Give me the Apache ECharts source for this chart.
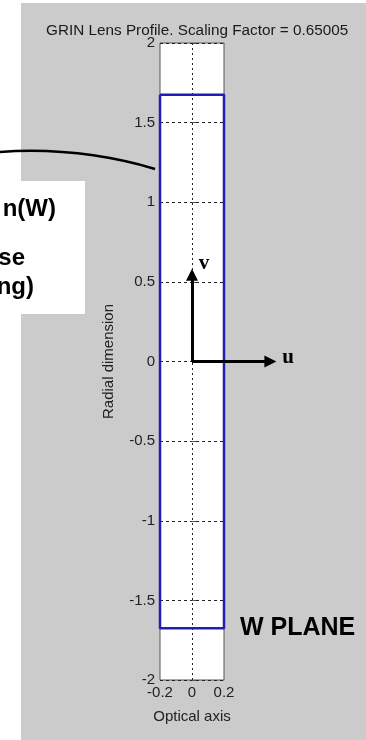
<!DOCTYPE html>
<html>
<head>
<meta charset="utf-8">
<script src="https://cdn.jsdelivr.net/npm/echarts@6/dist/echarts.min.js"></script>
<style>
    body { margin: 0; background: #fff; }
    #bg { position: absolute; left: 21px; top: 3px; width: 345px; height: 737px; background: #cbcbcb; }
    #main { position: absolute; left: 0; top: 0; width: 366px; height: 740px; }
</style>
</head>
<body>
<div id="bg"></div>
<div id="main"></div>
<script>
// 透镜轮廓 (W 平面)
var lensX = [-0.2, 0.2, 0.2, -0.2, -0.2];
var lensY = [1.675, 1.675, -1.675, -1.675, 1.675];

// 坐标箭头 u / v
var uArrow = [[0, 0], [0.49, 0]];
var vArrow = [[0, 0], [0, 0.545]];

// 左侧说明框引出的曲线
var pointerCurve = [[-1.2, 1.316], [-0.231, 1.209]];

// 轴范围
var xRange = [-0.2, 0.2];
var yRange = [-2, 2];

var font = 'Arial, "Liberation Sans", sans-serif';
var serif = '"Liberation Serif", "Times New Roman", serif';

var myChart = echarts.init(document.getElementById('main'));
myChart.setOption({
    animation: false,
    title: {
        text: 'GRIN Lens Profile. Scaling Factor = 0.65005',
        left: 41,
        top: 18,
        textStyle: { fontSize: 15.3, fontWeight: 'normal', color: '#1a1a1a', fontFamily: font }
    },
    grid: {   //绘图区
        left: 160,
        right: 142,
        top: 43,
        bottom: 60,
        show: true,
        backgroundColor: '#fff',
        borderColor: '#555',
        borderWidth: 1
    },
    xAxis: {
        type: 'value',
        min: xRange[0],
        max: xRange[1],
        interval: 0.2,
        name: 'Optical axis',
        nameLocation: 'middle',
        nameGap: 29,
        nameTextStyle: { fontSize: 15, color: '#222', fontFamily: font },
        axisLine: { show: false },
        axisTick: { inside: true, length: 4, lineStyle: { color: '#555' } },
        axisLabel: { fontSize: 15, color: '#222', fontFamily: font, margin: 5 },
        splitLine: { show: false }
    },
    yAxis: {
        type: 'value',
        min: yRange[0],
        max: yRange[1],
        interval: 0.5,
        name: 'Radial dimension',
        nameLocation: 'middle',
        nameGap: 44,
        nameTextStyle: { fontSize: 15, color: '#222', fontFamily: font },
        axisLine: { show: false },
        axisTick: { inside: true, length: 4, lineStyle: { color: '#555' } },
        axisLabel: { fontSize: 15, color: '#222', fontFamily: font, margin: 5 },
        splitLine: { lineStyle: { color: '#222', type: [3, 3] } }
    },
    series: [
        {
            type: 'line',
            data: lensX.map(function (x, i) { return [x, lensY[i]]; }),
            symbol: 'none',
            clip: false,
            z: 5,
            lineStyle: { color: '#2020b0', width: 2.5 },
            markLine: {   //光轴 x=0 虚线
                silent: true,
                symbol: 'none',
                label: { show: false },
                lineStyle: { color: '#222', type: [2, 3], width: 1 },
                data: [{ xAxis: 0 }]
            }
        },
        {
            type: 'lines',
            coordinateSystem: 'cartesian2d',
            clip: false,
            z: 6,
            symbol: ['none', 'triangle'],
            symbolSize: [10, 12],
            lineStyle: { color: '#000', width: 3, opacity: 1 },
            data: [{ coords: uArrow }, { coords: vArrow }]
        },
        {
            type: 'lines',
            coordinateSystem: 'cartesian2d',
            clip: false,
            z: 6,
            symbol: 'none',
            lineStyle: { color: '#000', width: 2.5, opacity: 1, curveness: 0.09 },
            data: [{ coords: pointerCurve }]
        }
    ],
    graphic: [
        { type: 'rect', shape: { x: 0, y: 181, width: 85, height: 133 }, style: { fill: '#fff' }, z: 10 },
        { type: 'text', x: 56, y: 209, z: 11, style: { text: 'n(W)', align: 'right', verticalAlign: 'middle', font: 'bold 24px ' + font, fill: '#000' } },
        { type: 'text', x: 25, y: 258, z: 11, style: { text: 'se', align: 'right', verticalAlign: 'middle', font: 'bold 24px ' + font, fill: '#000' } },
        { type: 'text', x: 34, y: 287, z: 11, style: { text: 'ng)', align: 'right', verticalAlign: 'middle', font: 'bold 24px ' + font, fill: '#000' } },
        { type: 'text', x: 240, y: 628, z: 11, style: { text: 'W PLANE', align: 'left', verticalAlign: 'middle', font: 'bold 25px ' + font, fill: '#000' } },
        { type: 'text', x: 288, y: 358, z: 11, style: { text: 'u', align: 'center', verticalAlign: 'middle', font: 'bold 21px ' + serif, fill: '#000' } },
        { type: 'text', x: 204, y: 264, z: 11, style: { text: 'v', align: 'center', verticalAlign: 'middle', font: 'bold 21px ' + serif, fill: '#000' } }
    ]
});
</script>
</body>
</html>
